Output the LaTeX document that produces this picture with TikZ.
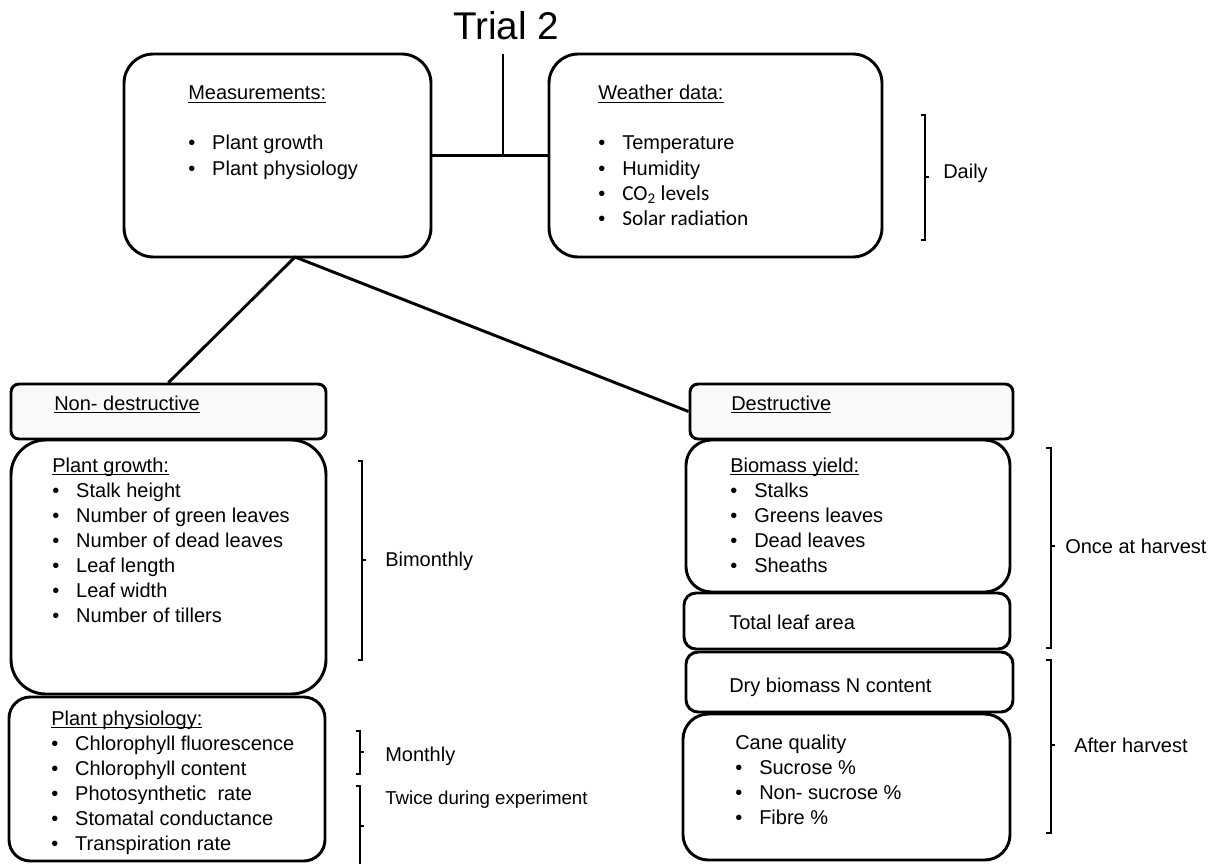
\documentclass[tikz,border=0pt]{standalone}
\usepackage{fontspec}
\setmainfont{Liberation Sans}
\newfontfamily\calfont{Carlito}
\newcommand{\pxu}{0.75pt}
\newsavebox{\undlbox}
\newcommand{\undl}[1]{\sbox{\undlbox}{#1}\rlap{\rule[-2.2pt]{\wd\undlbox}{0.8pt}}\usebox{\undlbox}}
\newcommand{\bul}[1]{\makebox[18pt][l]{\textbullet}#1}
\newcommand{\lines}[1]{\begin{tabular}[t]{@{}l@{}}#1\end{tabular}}

\tikzset{
  box/.style n args={2}{draw, line width=2.2pt, inner sep=0pt,
    minimum width=#1*\pxu, minimum height=#2*\pxu},
  headbox/.style={fill=gray!5, rounded corners=6pt},
  txt/.style={anchor=base west, inner sep=0pt,
    font=\fontsize{15}{18.75}\selectfont},
  link/.style={line width=2.2pt},
  brk/.style={line width=1pt}
}

\begin{document}
\begin{tikzpicture}[x=0.75pt,y=-0.75pt]
\useasboundingbox (0,0) rectangle (1226,863);

\node[anchor=base, inner sep=10pt, font=\fontsize{29}{34}\selectfont] (title) at (506,40) {Trial 2};

\node[box={307}{203}, rounded corners=22pt] (meas) at (277.5,155.5) {};
\node[box={333}{203}, rounded corners=22pt] (weather) at (715.5,155.5) {};
\node[txt] (meastxt) at (188,100) {\lines{\undl{Measurements:}\\[18.75pt]
  \bul{Plant growth}\\ \bul{Plant physiology}}};
\node[txt] (weathertxt) at (598,100) {\lines{\undl{Weather data:}\\[18.75pt]
  \bul{Temperature}\\ \bul{Humidity}\\
  \bul{\calfont\fontsize{16}{18.75}\selectfont CO\textsubscript{2} levels}\\
  \bul{\calfont\fontsize{16}{18.75}\selectfont Solar radiation}}};

\coordinate (junc) at (503,155.5);
\coordinate (split) at (295,257);
\draw[link] (meas.east) -- (weather.west);
\draw[link] (junc) -- (junc |- title.south);

% left branch
\node[box={315}{55}, headbox] (nondes) at (168.5,411.5) {};
\node[box={315}{254}, rounded corners=26pt] (growth) at (168.5,567) {};
\node[box={316}{164}, rounded corners=16pt] (physio) at (167,779) {};
\node[txt] (nondestxt) at (54,410) {\undl{Non- destructive}};
\node[txt] (growthtxt) at (52,472) {\lines{\undl{Plant growth:}\\
  \bul{Stalk height}\\ \bul{Number of green leaves}\\ \bul{Number of dead leaves}\\
  \bul{Leaf length}\\ \bul{Leaf width}\\ \bul{Number of tillers}}};
\node[txt] (physiotxt) at (51,725) {\lines{\undl{Plant physiology:}\\
  \bul{Chlorophyll fluorescence}\\ \bul{Chlorophyll content}\\
  \bul{Photosynthetic\ \ rate}\\ \bul{Stomatal conductance}\\ \bul{Transpiration rate}}};

% right branch
\node[box={323}{55}, headbox] (des) at (851.5,411.5) {};
\node[box={324}{152}, rounded corners=19pt] (biomass) at (848,516) {};
\node[box={326}{56}, rounded corners=9pt] (leafarea) at (847,621) {};
\node[box={327}{60}, rounded corners=9pt] (drybio) at (849.5,682) {};
\node[box={327}{146}, rounded corners=19pt] (cane) at (846.5,787) {};
\node[txt] (destxt) at (731,410) {\undl{Destructive}};
\node[txt] (biomasstxt) at (730,472) {\lines{\undl{Biomass yield:}\\
  \bul{Stalks}\\ \bul{Greens leaves}\\ \bul{Dead leaves}\\ \bul{Sheaths}}};
\node[txt] (leafareatxt) at (729,629) {Total leaf area};
\node[txt] (drybiotxt) at (729,692) {Dry biomass N content};
\node[txt] (canetxt) at (735,749) {\lines{Cane quality\\
  \bul{Sucrose \%}\\ \bul{Non- sucrose \%}\\ \bul{Fibre \%}}};

\draw[link] (split) -- (nondes.north);
\draw[link] (split) -- (des.west);

% brackets
\draw[brk] (921,115) -- (925,115) -- (925,240) -- (921,240) (925,177) -- (929,177);
\node[txt, anchor=west] (daily) at (943,173) {Daily};
\draw[brk] (358,461) -- (362,461) -- (362,660) -- (358,660) (362,560) -- (366,560);
\node[txt, anchor=west] (bimonthly) at (385,561) {Bimonthly};
\draw[brk] (356,731) -- (360,731) -- (360,774) -- (356,774) (360,752) -- (364,752);
\node[txt, anchor=west] (monthly) at (385,756) {Monthly};
\draw[brk] (356,786) -- (360,786) -- (360,866) (360,826) -- (364,826);
\node[txt, anchor=west, font=\fontsize{14}{17}\selectfont] (twice) at (385,800) {Twice during experiment};
\draw[brk] (1046,448) -- (1051,448) -- (1051,648) -- (1046,648) (1051,546) -- (1055,546);
\node[txt, anchor=west] (once) at (1065,546) {Once at harvest};
\draw[brk] (1046,660) -- (1051,660) -- (1051,833) -- (1046,833) (1051,745) -- (1055,745);
\node[txt, anchor=west] (after) at (1074,745) {After harvest};

\end{tikzpicture}
\end{document}
